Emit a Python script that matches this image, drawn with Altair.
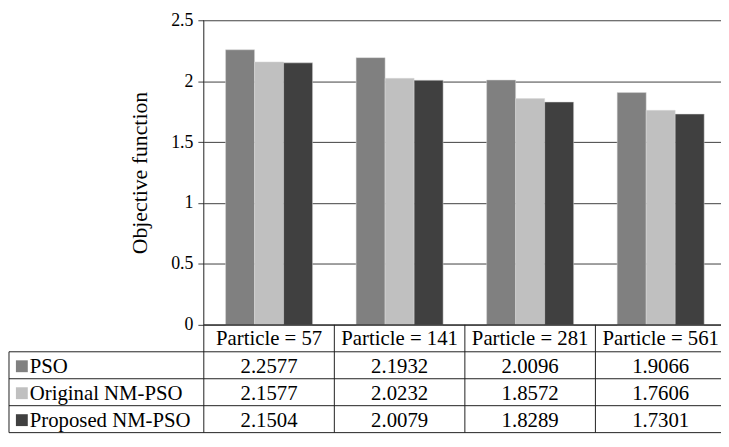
import altair as alt
import pandas as pd

# ---- data ----
categories = ["Particle = 57", "Particle = 141", "Particle = 281", "Particle = 561"]
series = ["PSO", "Original NM-PSO", "Proposed NM-PSO"]
pso = [2.2577, 2.1932, 2.0096, 1.9066]
original_nm_pso = [2.1577, 2.0232, 1.8572, 1.7606]
proposed_nm_pso = [2.1504, 2.0079, 1.8289, 1.7301]
y_ticks = [0, 0.5, 1, 1.5, 2, 2.5]
colors = ["#808080", "#c0c0c0", "#404040"]

values = [pso, original_nm_pso, proposed_nm_pso]

# ---- layout (pixels) ----
STEP = 132                 # width of one category column
RANGE_W = STEP * len(categories)
W = 523                    # visible plot width (right border falls just outside)
BAR_H = 308                # height of the 0..2.5 area
ROW_H = 27.25              # data-table row height
N_ROWS = 4
H = BAR_H + ROW_H * N_ROWS
LABEL_COL = 197            # width of the table's label column (left of the plot)
FONT = "Liberation Serif"
FS_TABLE = 21
FS_TICK = 18
FS_TITLE = 22

k = BAR_H / 2.5            # pixels per unit
ru = ROW_H / k             # one table row in y units
y_min = -N_ROWS * ru
x_left = -LABEL_COL / STEP

# ---- data frames ----
bars = pd.DataFrame(
    [{"category": c, "series": s, "value": values[j][i]}
     for j, s in enumerate(series) for i, c in enumerate(categories)]
)
header = pd.DataFrame(
    [{"text": c, "x": i + 0.5, "y": -0.5 * ru} for i, c in enumerate(categories)]
)
cells = pd.DataFrame(
    [{"text": f"{values[j][i]:.4f}", "x": i + 0.5, "y": -(j + 1.5) * ru}
     for j in range(len(series)) for i in range(len(categories))]
)
row_labels = pd.DataFrame(
    [{"series": s, "x": x_left, "y": -(j + 1.5) * ru} for j, s in enumerate(series)]
)
hlines = pd.DataFrame(
    [{"x": 0, "x2": len(categories), "y": 0}]
    + [{"x": x_left, "x2": len(categories), "y": -r * ru} for r in range(1, N_ROWS + 1)]
)
vlines = pd.DataFrame(
    [{"x": x_left, "y": -ru, "y2": y_min},
     {"x": 0, "y": 2.5, "y2": y_min}]
    + [{"x": i, "y": 0, "y2": y_min} for i in range(1, len(categories))]
    + [{"x": len(categories), "y": 2.5, "y2": y_min}]
)

yscale = alt.Scale(domain=[y_min, 2.5], nice=False, zero=False)
xq = alt.Scale(domain=[0, len(categories)], range=[0, RANGE_W], nice=False, zero=False)
cscale = alt.Scale(domain=series, range=colors)

bar_layer = alt.Chart(bars).mark_bar(stroke="#d9d9d9", strokeWidth=0.5).encode(
    x=alt.X("category:N", sort=categories, axis=None,
            scale=alt.Scale(range=[0, RANGE_W], paddingInner=1/3, paddingOuter=1/6)),
    xOffset=alt.XOffset("series:N", sort=series,
                        scale=alt.Scale(paddingInner=0, paddingOuter=0)),
    y=alt.Y("value:Q", stack=None, scale=yscale,
            axis=alt.Axis(values=y_ticks, format="~g", grid=True, gridColor="#404040",
                          gridWidth=1, domain=False, ticks=True, tickSize=6,
                          tickColor="#404040", labelPadding=5,
                          labelFont=FONT, labelFontSize=FS_TICK, labelColor="#000",
                          title="Objective function", titlePadding=19,
                          titleY=BAR_H / 2, titleAlign="center",
                          titleFont=FONT, titleFontSize=FS_TITLE,
                          titleFontWeight="normal", titleColor="#000")),
    color=alt.Color("series:N", scale=cscale, legend=None),
)

h_layer = alt.Chart(hlines).mark_rule(color="#202020", strokeWidth=1).encode(
    x=alt.X("x:Q", scale=xq, axis=None), x2="x2:Q",
    y=alt.Y("y:Q", scale=yscale),
)
v_layer = alt.Chart(vlines).mark_rule(color="#202020", strokeWidth=1).encode(
    x=alt.X("x:Q", scale=xq, axis=None),
    y=alt.Y("y:Q", scale=yscale), y2="y2:Q",
)
header_layer = alt.Chart(header).mark_text(font=FONT, fontSize=FS_TABLE, color="#000",
                                           align="center", baseline="middle", dy=1).encode(
    x=alt.X("x:Q", scale=xq, axis=None),
    y=alt.Y("y:Q", scale=yscale), text="text:N",
)
cell_layer = alt.Chart(cells).mark_text(font=FONT, fontSize=FS_TABLE, color="#000",
                                        align="center", baseline="middle", dy=2).encode(
    x=alt.X("x:Q", scale=xq, axis=None),
    y=alt.Y("y:Q", scale=yscale), text="text:N",
)
square_layer = alt.Chart(row_labels).mark_square(size=144, opacity=1, xOffset=13,
                                                 yOffset=1).encode(
    x=alt.X("x:Q", scale=xq, axis=None),
    y=alt.Y("y:Q", scale=yscale),
    color=alt.Color("series:N", scale=cscale, legend=None),
)
label_layer = alt.Chart(row_labels).mark_text(font=FONT, fontSize=FS_TABLE, color="#000",
                                              align="left", baseline="middle",
                                              dx=21, dy=2).encode(
    x=alt.X("x:Q", scale=xq, axis=None),
    y=alt.Y("y:Q", scale=yscale), text="series:N",
)

chart = alt.layer(
    bar_layer, h_layer, v_layer, header_layer, cell_layer, square_layer, label_layer
).resolve_scale(x="independent").properties(
    width=W, height=H,
    autosize=alt.AutoSizeParams(type="none"),
    padding={"left": 198, "top": 10, "right": 0, "bottom": 0},
).configure_view(stroke=None).configure_axis(
    labelFont=FONT, labelFontSize=FS_TICK, labelColor="#000",
    titleFont=FONT, titleFontSize=FS_TITLE, titleFontWeight="normal", titleColor="#000",
)

chart.save("out.html", embed_options={"renderer": "svg", "actions": False})
